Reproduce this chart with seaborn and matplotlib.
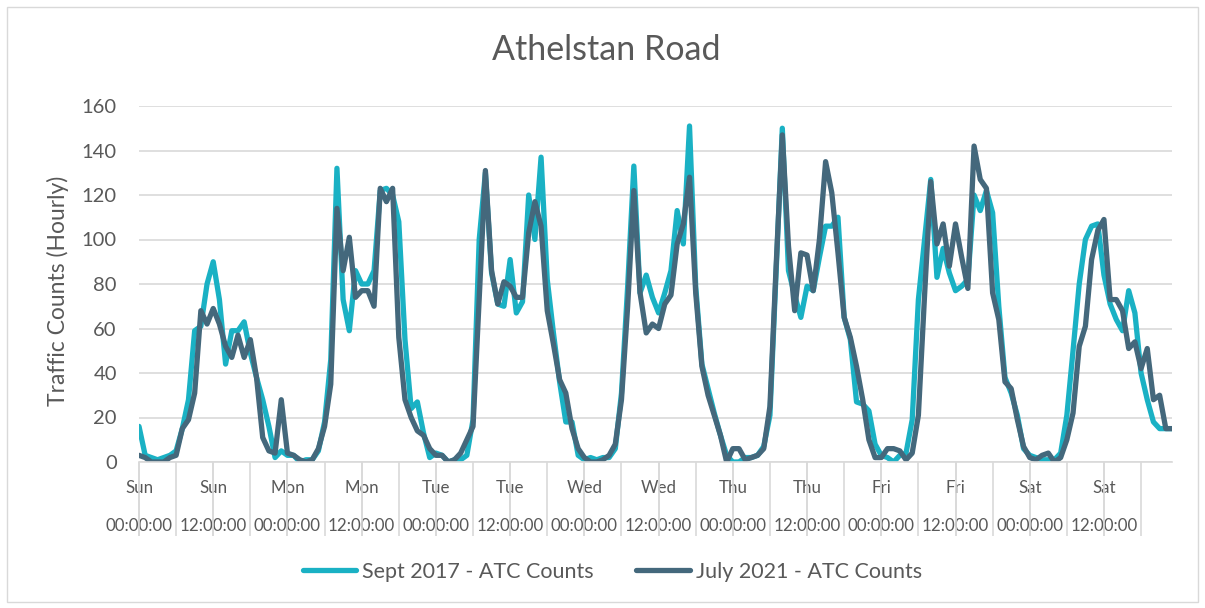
import pandas as pd
import seaborn as sns
import matplotlib.pyplot as plt
from matplotlib.patches import Rectangle

# hourly counts, Sunday 00:00 to Saturday 23:00
sept_2017 = [16, 3, 2, 1, 2, 3, 5, 15, 28, 59, 61, 80, 90, 73, 44, 59, 59, 63, 49, 38, 28, 16, 2, 5,
             3, 3, 0, 1, 1, 5, 18, 46, 132, 73, 59, 86, 80, 80, 86, 122, 123, 120, 108, 55, 24, 27, 13, 2,
             4, 3, 0, 1, 1, 3, 19, 100, 130, 85, 71, 70, 91, 67, 72, 120, 100, 137, 82, 58, 36, 18, 18, 3,
             1, 2, 1, 2, 2, 6, 31, 79, 133, 76, 84, 74, 67, 76, 86, 113, 98, 151, 79, 44, 33, 22, 12, 3,
             0, 0, 2, 2, 3, 7, 21, 85, 150, 86, 75, 65, 79, 77, 92, 106, 106, 110, 65, 55, 27, 26, 23, 8,
             3, 2, 0, 3, 4, 19, 73, 100, 127, 83, 96, 85, 77, 79, 82, 120, 113, 122, 112, 70, 38, 31, 21, 6,
             3, 2, 1, 1, 1, 4, 21, 50, 80, 100, 106, 107, 84, 71, 64, 59, 77, 67, 40, 28, 18, 15, 15, 15]

july_2021 = [3, 2, 0, 0, 0, 2, 3, 15, 19, 31, 68, 62, 69, 62, 52, 47, 57, 47, 55, 38, 11, 5, 4, 28,
             4, 3, 1, 0, 1, 6, 16, 35, 114, 86, 101, 74, 77, 77, 70, 123, 117, 123, 56, 28, 20, 14, 12, 6,
             3, 3, 0, 1, 4, 10, 16, 73, 131, 86, 71, 81, 79, 74, 74, 103, 117, 106, 68, 53, 37, 31, 15, 6,
             2, 0, 0, 1, 3, 8, 28, 70, 122, 76, 58, 62, 60, 71, 75, 98, 107, 128, 76, 43, 30, 21, 12, 0,
             6, 6, 1, 2, 3, 6, 25, 88, 147, 97, 68, 94, 93, 77, 100, 135, 121, 94, 65, 56, 43, 28, 10, 2,
             2, 6, 6, 5, 1, 4, 21, 75, 126, 98, 107, 88, 107, 92, 78, 142, 127, 123, 76, 64, 36, 33, 19, 7,
             2, 1, 3, 4, 0, 2, 10, 22, 52, 61, 91, 104, 109, 73, 73, 68, 51, 54, 42, 51, 28, 30, 15, 15]

days = ["Sun", "Mon", "Tue", "Wed", "Thu", "Fri", "Sat"]
times = ["00:00:00", "12:00:00"]
series = ["Sept 2017 - ATC Counts", "July 2021 - ATC Counts"]
colours = ["#1AB1C4", "#44687C"]

hours = list(range(len(sept_2017)))
df = pd.DataFrame({
    "hour": hours * 2,
    "count": sept_2017 + july_2021,
    "series": [series[0]] * len(hours) + [series[1]] * len(hours),
})

sns.set_style("white")
plt.rcParams["font.family"] = ["Lato", "DejaVu Sans"]
grey = "#595959"

fig = plt.figure(figsize=(12.05, 6.08), dpi=100)
ax = fig.add_axes([139 / 1205, 1 - 462 / 608, (1172 - 139) / 1205, (462 - 106) / 608])

sns.lineplot(data=df, x="hour", y="count", hue="series", hue_order=series,
             palette=colours, linewidth=3.8, ax=ax)
for ln in ax.lines:
    ln.set_solid_joinstyle("round")
    ln.set_solid_capstyle("round")

ax.set_xlim(0, len(hours) - 1)
ax.set_ylim(0, 160)
ax.set_yticks(range(0, 161, 20))
ax.grid(axis="y", color="#D9D9D9", linewidth=1.2)
ax.set_axisbelow(True)
for s in ["top", "right", "left"]:
    ax.spines[s].set_visible(False)
ax.spines["bottom"].set_color("#D9D9D9")
ax.spines["bottom"].set_linewidth(1.2)

# x axis: labels every 12 hours, tick lines every 6 hours
ax.set_xticks(range(0, len(hours), 6), minor=True)
ax.set_xticks(range(0, len(hours), 12))
ax.set_xticklabels([f"{d}\n{t}" for d in days for t in times], linespacing=2.7)
ax.xaxis.remove_overlapping_locs = False
ax.tick_params(axis="x", which="both", bottom=True, length=53, width=1.2,
               color="#D9D9D9", direction="out")
ax.tick_params(axis="x", which="major", pad=-40, labelsize=12.2, labelcolor=grey)
ax.tick_params(axis="y", length=0, pad=16, labelsize=14.5, labelcolor=grey)

ax.set_xlabel("")
ax.set_ylabel("Traffic Counts (Hourly)", fontsize=16.5, color=grey)
ax.yaxis.set_label_coords(-0.068, 0.48)

fig.text(0.503, 1 - 50 / 608, "Athelstan Road", ha="center", va="center", fontsize=24.5, color=grey)

handles, labels = ax.get_legend_handles_labels()
ax.get_legend().remove()
fig.legend(handles, labels, loc="center", bbox_to_anchor=(0.508, 1 - 572 / 608), ncol=2,
           frameon=False, fontsize=15.5, labelcolor=grey, handlelength=2.5, handletextpad=0.25,
           columnspacing=2.0)

fig.patches.append(Rectangle((7 / 1205, 6 / 608), 1191 / 1205, 595 / 608, transform=fig.transFigure,
                             fill=False, edgecolor="#D9D9D9", linewidth=1))

fig.savefig("out.png", dpi=100, facecolor="white")
